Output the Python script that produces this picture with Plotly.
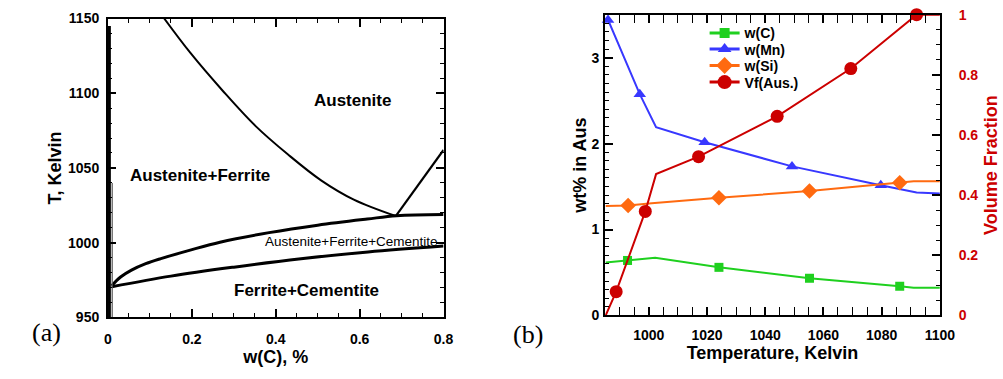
import plotly.graph_objects as go

# ---------------- Panel (a): phase diagram ----------------
# Austenite / Austenite+Ferrite boundary
aus_x = [0.134, 0.196, 0.274, 0.352, 0.430, 0.508, 0.586, 0.686]
aus_T = [1150, 1127.1, 1101.5, 1078, 1058.8, 1041.7, 1028.8, 1017.8]
# Austenite / Austenite+Cementite boundary (Acm)
acm_x = [0.686, 0.8]
acm_T = [1017.8, 1062]
# Upper boundary of three-phase field
a1u_x = [0.009, 0.03, 0.056, 0.09, 0.126, 0.196, 0.267, 0.384, 0.50, 0.618, 0.688, 0.8]
a1u_T = [971.2, 977.0, 981.6, 985.9, 989.3, 995.0, 1000.3, 1006.7, 1011.7, 1015.8, 1018.0, 1018.8]
# Lower boundary of three-phase field
a1l_x = [0.009, 0.15, 0.30, 0.46, 0.62, 0.8]
a1l_T = [970.5, 977.6, 983.6, 989.2, 993.8, 997.7]
# Ferrite solvus lines near zero carbon
fer1_x = [0.003, 0.003]
fer1_T = [1145, 950]
fer2_x = [0.010, 0.010]
fer2_T = [1040, 950]

region_labels = ["Austenite", "Austenite+Ferrite", "Austenite+Ferrite+Cementite", "Ferrite+Cementite"]
region_x = [0.582, 0.22, 0.58, 0.473]
region_T = [1094.9, 1044.9, 1000.6, 968.0]

# ---------------- Panel (b): composition vs temperature ----------------
c_T = [985.2, 992.7, 1002.2, 1024.1, 1055.2, 1086.2, 1091, 1100]
c_w = [0.616, 0.640, 0.672, 0.560, 0.433, 0.340, 0.322, 0.322]
c_mk = [1, 3, 4, 5]

mn_T = [985.2, 986.0, 996.9, 1002.5, 1019.2, 1049.2, 1079.7, 1092, 1100]
mn_w = [3.45, 3.44, 2.575, 2.19, 2.015, 1.735, 1.515, 1.43, 1.42]
mn_mk = [1, 2, 4, 5, 6]

si_T = [985.2, 992.9, 1001, 1024.1, 1055.2, 1086.2, 1091, 1100]
si_w = [1.275, 1.280, 1.305, 1.370, 1.448, 1.545, 1.563, 1.563]
si_mk = [1, 3, 4, 5]

vf_T = [985.2, 988.8, 998.8, 1002.5, 1017.1, 1044.1, 1069.4, 1092, 1100]
vf_v = [0.0, 0.079, 0.346, 0.47, 0.528, 0.662, 0.821, 1.0, 1.0]
vf_mk = [1, 2, 4, 5, 6, 7]

GREEN = "#1fd01f"
BLUE = "#3838ff"
ORANGE = "#ff6a10"
RED = "#cc0000"
FONT = "Liberation Sans"

fig = go.Figure()

def blk(x, y, w, shape="linear", color="black"):
    fig.add_trace(go.Scatter(x=x, y=y, mode="lines",
                             line=dict(color=color, width=w, shape=shape, smoothing=1.0),
                             xaxis="x", yaxis="y", showlegend=False, hoverinfo="skip"))

blk(aus_x, aus_T, 2, "spline")
blk(acm_x, acm_T, 2.2)
blk(a1u_x, a1u_T, 3, "spline")
blk(a1l_x, a1l_T, 3, "spline")
blk(fer1_x, fer1_T, 3.2)
blk(fer2_x, fer2_T, 1.2, color="#555555")

def series(T, v, idx, color, symbol, size, name, yax, leg):
    fig.add_trace(go.Scatter(x=T, y=v, mode="lines", line=dict(color=color, width=2),
                             xaxis="x2", yaxis=yax, showlegend=False, hoverinfo="skip"))
    fig.add_trace(go.Scatter(x=[T[i] for i in idx], y=[v[i] for i in idx], mode="markers",
                             marker=dict(color=color, symbol=symbol, size=size),
                             xaxis="x2", yaxis=yax, showlegend=False, cliponaxis=False))
    # legend entry
    fig.add_trace(go.Scatter(x=[None], y=[None], mode="lines+markers", name=name,
                             line=dict(color=color, width=3),
                             marker=dict(color=color, symbol=symbol, size=size + 1),
                             xaxis="x2", yaxis=yax, showlegend=True, legend=leg))

series(c_T, c_w, c_mk, GREEN, "square", 9, "w(C)", "y2", "legend")
series(mn_T, mn_w, mn_mk, BLUE, "triangle-up", 11, "w(Mn)", "y2", "legend2")
series(si_T, si_w, si_mk, ORANGE, "diamond", 12, "w(Si)", "y2", "legend3")
series(vf_T, vf_v, vf_mk, RED, "circle", 13, "Vf(Aus.)", "y3", "legend4")

tickfont = dict(family=FONT, size=14, color="black", weight="bold")
titlefont = dict(family=FONT, size=18, color="black", weight="bold")

common = dict(showline=True, linewidth=2, linecolor="black", ticks="inside",
              tickwidth=1.5, ticklen=8, tickcolor="black", showgrid=False,
              zeroline=False, tickfont=tickfont)

legfont = dict(family=FONT, size=14, color="black", weight="bold")
leg_rows = [26.5, 43.3, 60.5, 77.8]
legs = {}
for i, key in enumerate(["legend", "legend2", "legend3", "legend4"]):
    legs[key] = dict(x=0.712, y=1 - leg_rows[i] / 379, xanchor="left", yanchor="middle",
                     bgcolor="rgba(0,0,0,0)", font=legfont, itemwidth=30)

fig.update_layout(
    width=1003, height=379,
    margin=dict(l=0, r=0, t=0, b=0),
    paper_bgcolor="white", plot_bgcolor="white",
    xaxis=dict(domain=[0.1057, 0.4467], range=[0, 0.8], tickvals=[0, 0.2, 0.4, 0.6, 0.8],
               ticktext=["0", "0.2", "0.4", "0.6", "0.8"], mirror="allticks",
               minor=dict(ticks="inside", dtick=0.05, ticklen=4, tickwidth=1, tickcolor="black"),
               title=dict(text="w(C), %", font=titlefont, standoff=0),
               anchor="y", ticklabelstandoff=8, **common),
    yaxis=dict(domain=[0.1478, 0.971], range=[950, 1150], dtick=50, mirror="allticks",
               minor=dict(ticks="inside", dtick=10, ticklen=4, tickwidth=1, tickcolor="black"),
               title=dict(text="T, Kelvin", font=titlefont, standoff=2),
               anchor="x", ticklabelstandoff=4, **common),
    xaxis2=dict(domain=[0.6109, 0.9511], range=[985, 1100], dtick=20, mirror="allticks",
                minor=dict(ticks="inside", dtick=5, ticklen=4, tickwidth=1, tickcolor="black"),
                title=dict(text="Temperature, Kelvin", font=titlefont, standoff=2),
                anchor="y2", ticklabelstandoff=6, **common),
    yaxis2=dict(domain=[0.153, 0.9815], range=[0, 3.5], dtick=1, mirror=False,
                minor=dict(ticks="inside", dtick=0.1, ticklen=4, tickwidth=1, tickcolor="black"),
                title=dict(text="wt% in Aus", font=titlefont, standoff=0),
                anchor="x2", ticklabelstandoff=1, **common),
    yaxis3=dict(range=[0, 1], dtick=0.2, overlaying="y2", side="right", anchor="x2",
                minor=dict(ticks="inside", dtick=0.05, ticklen=4, tickwidth=1, tickcolor="black"),
                title=dict(text="Volume Fraction", font=dict(family=FONT, size=18, color=RED, weight="bold"),
                           standoff=7),
                tickvals=[0, 0.2, 0.4, 0.6, 0.8, 1], ticktext=["0", "0.2", "0.4", "0.6", "0.8", "1"],
                showline=True, linewidth=2, linecolor="black", ticks="inside", tickwidth=1.5,
                ticklen=8, tickcolor="black", showgrid=False, zeroline=False, ticklabelstandoff=14,
                tickfont=dict(family=FONT, size=14, color=RED, weight="bold")),
    showlegend=True,
    **legs,
)

annos = []
for i, txt in enumerate(region_labels):
    small = txt == "Austenite+Ferrite+Cementite"
    annos.append(dict(x=region_x[i], y=region_T[i], xref="x", yref="y", text=txt, showarrow=False,
                      font=dict(family=FONT, size=13.5 if small else 17, color="black",
                                weight="normal" if small else "bold")))
annos.append(dict(x=26 / 1003, y=1 - 356 / 379, xref="paper", yref="paper", text="(a)", showarrow=False,
                  font=dict(family="Liberation Serif", size=26, color="black")))
annos.append(dict(x=534 / 1003, y=1 - 358 / 379, xref="paper", yref="paper", text="(b)", showarrow=False,
                  font=dict(family="Liberation Serif", size=26, color="black")))
fig.update_layout(annotations=annos)

fig.write_html("out.html")
